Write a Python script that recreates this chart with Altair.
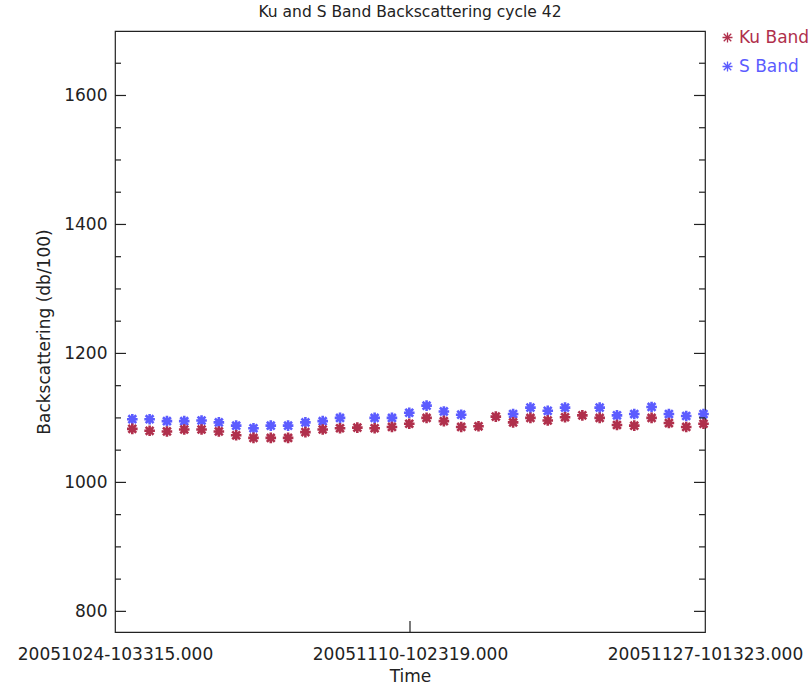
import altair as alt
import pandas as pd

# Observation times (one pass per day over the cycle)
times = [
    "2005-10-25T10:29", "2005-10-26T10:25", "2005-10-27T10:21", "2005-10-28T10:16",
    "2005-10-29T10:12", "2005-10-30T10:08", "2005-10-31T10:04", "2005-11-01T10:00",
    "2005-11-02T09:55", "2005-11-03T09:51", "2005-11-04T09:47", "2005-11-05T09:43",
    "2005-11-06T09:39", "2005-11-07T09:34", "2005-11-08T09:30", "2005-11-09T09:26",
    "2005-11-10T09:22", "2005-11-11T09:18", "2005-11-12T09:13", "2005-11-13T09:09",
    "2005-11-14T09:05", "2005-11-15T09:01", "2005-11-16T08:57", "2005-11-17T08:52",
    "2005-11-18T08:48", "2005-11-19T08:44", "2005-11-20T08:40", "2005-11-21T08:36",
    "2005-11-22T08:31", "2005-11-23T08:27", "2005-11-24T08:23", "2005-11-25T08:19",
    "2005-11-26T08:15", "2005-11-27T08:10",
]

# Backscattering in db/100
ku_band = [
    1083, 1080, 1079, 1082, 1082, 1079, 1073, 1069, 1069, 1069, 1078, 1082,
    1084, 1085, 1084, 1086, 1091, 1100, 1095, 1086, 1087, 1102, 1093, 1100,
    1096, 1101, 1104, 1100, 1089, 1088, 1100, 1092, 1086, 1091,
]
s_band = [
    1098, 1098, 1095, 1095, 1096, 1093, 1088, 1084, 1088, 1088, 1093, 1095,
    1100, None, 1100, 1100, 1108, 1119, 1110, 1105, None, None, 1106, 1116,
    1111, 1116, None, 1116, 1104, 1106, 1117, 1106, 1103, 1106,
]

series_names = ["Ku Band", "S Band"]
series_colors = ["#b0304c", "#5c5cff"]

# Y-axis tick values
y_major = [800, 1000, 1200, 1400, 1600]
y_minor = [850, 900, 950, 1050, 1100, 1150, 1250, 1300, 1350,
           1450, 1500, 1550, 1650]

# Middle date on the time axis
x_mid = "2005-11-10T10:23:19"

W, H = 590, 601
MAJOR, MINOR = 11, 6
FONT = "DejaVu Sans"
INK = "#222"

rows = []
for name, vals in (("S Band", s_band), ("Ku Band", ku_band)):
    for t, v in zip(times, vals):
        if v is not None:
            rows.append({"time": t, "value": v, "band": name})
df = pd.DataFrame(rows)

t_start = alt.DateTime(year=2005, month=10, date=24, hours=10, minutes=33, seconds=15)
t_mid = alt.DateTime(year=2005, month=11, date=10, hours=10, minutes=23, seconds=19)
t_end = alt.DateTime(year=2005, month=11, date=27, hours=10, minutes=13, seconds=23)

x_scale = alt.Scale(domain=[t_start, t_end], nice=False)
y_scale = alt.Scale(domain=[768, 1700], nice=False, zero=False)

asterisk = "M-1,0L1,0M0,-1L0,1M-0.75,-0.75L0.75,0.75M-0.75,0.75L0.75,-0.75"

points = (
    alt.Chart(df)
    .mark_point(shape=asterisk, filled=False, size=64, strokeWidth=2.6,
                strokeCap="square", opacity=1)
    .encode(
        x=alt.X(
            "time:T",
            title="Time",
            scale=x_scale,
            axis=alt.Axis(
                values=[t_start, t_mid, t_end],
                labelExpr="timeFormat(datum.value, '%Y%m%d-%H%M%S') + '.000'",
                grid=False,
                ticks=False,
                domain=False,
                labelPadding=14,
                labelFlush=False,
                labelOverlap=False,
                labelLimit=0,
                titlePadding=6,
            ),
        ),
        y=alt.Y(
            "value:Q",
            title="Backscattering (db/100)",
            scale=y_scale,
            axis=alt.Axis(
                values=y_major,
                format="d",
                grid=False,
                ticks=False,
                domain=False,
                labelPadding=8,
                titlePadding=10,
            ),
        ),
        color=alt.Color(
            "band:N",
            scale=alt.Scale(domain=series_names, range=series_colors),
            legend=alt.Legend(
                title=None,
                orient="none",
                legendX=604,
                legendY=-2,
                symbolType=asterisk,
                symbolSize=100,
                symbolStrokeWidth=1.3,
                symbolFillColor="transparent",
                labelFontSize=17,
                labelFont=FONT,
                labelColor={"expr": "datum.value == 'Ku Band' ? '#b0304c' : '#5c5cff'"},
                rowPadding=11,
                labelOffset=3,
            ),
        ),
    )
)


def side_ticks(values, x0, x1):
    """Inward tick marks along one vertical side of the frame."""
    return (
        alt.Chart(pd.DataFrame({"value": values}))
        .mark_rule(color=INK, strokeWidth=1.2)
        .encode(
            y=alt.Y("value:Q", scale=y_scale),
            x=alt.value(x0),
            x2=alt.value(x1),
        )
    )


x_tick = (
    alt.Chart(pd.DataFrame({"time": [x_mid]}))
    .mark_rule(color=INK, strokeWidth=1.2)
    .encode(
        x=alt.X("time:T", scale=x_scale),
        y=alt.value(H),
        y2=alt.value(H - MAJOR),
    )
)

chart = (
    alt.layer(
        points,
        side_ticks(y_major, 0, MAJOR),
        side_ticks(y_minor, 0, MINOR),
        side_ticks(y_major, W - MAJOR, W),
        side_ticks(y_minor, W - MINOR, W),
        x_tick,
    )
    .properties(
        width=W,
        height=H,
        title=alt.TitleParams(
            "Ku and S Band Backscattering cycle 42",
            fontSize=15.5,
            fontWeight="normal",
            font=FONT,
            color=INK,
            offset=9,
        ),
        autosize=alt.AutoSizeParams(type="none"),
        padding={"left": 115, "top": 31, "right": 105, "bottom": 54},
    )
    .configure_view(stroke=INK, strokeWidth=1.2)
    .configure_axis(
        labelColor=INK,
        titleColor=INK,
        labelFont=FONT,
        titleFont=FONT,
        labelFontSize=17,
        titleFontSize=17,
        titleFontWeight="normal",
    )
)

chart.save("out.html", embed_options={"renderer": "svg", "actions": False})
